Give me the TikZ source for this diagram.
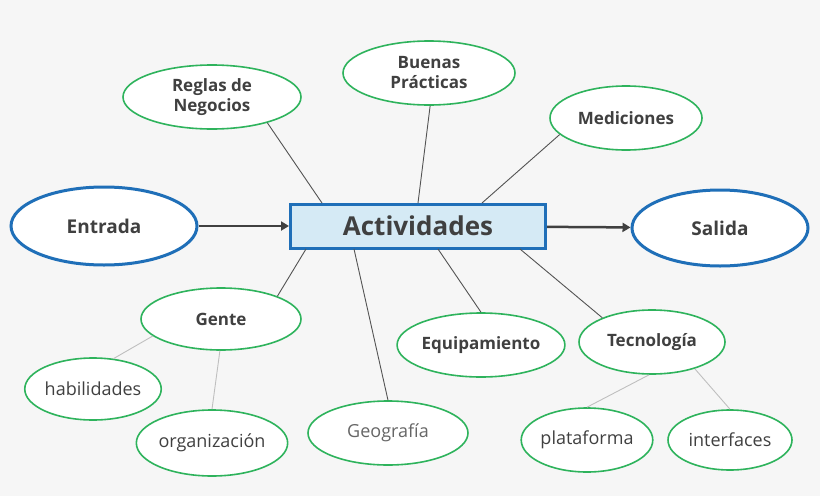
\documentclass[tikz,border=0pt]{standalone}
\usepackage{fontspec}
\setmainfont{Open Sans}
\usetikzlibrary{shapes.geometric,arrows.meta}
\definecolor{bg}{HTML}{F6F6F6}
\definecolor{bluebd}{HTML}{1F6FB8}
\definecolor{actfill}{HTML}{D5EAF5}
\definecolor{grn}{HTML}{2EB35C}
\definecolor{txt}{HTML}{404040}
\tikzset{
 el/.style={ellipse,draw=grn,line width=1.6pt,fill=white,inner sep=0pt,text=txt,font=\fontsize{17}{20}\selectfont\bfseries,align=center},
 elp/.style={el,font=\fontsize{18}{20}\selectfont},
 big/.style={ellipse,draw=bluebd,line width=3pt,fill=white,inner sep=0pt,text=txt,font=\fontsize{19}{21}\selectfont\bfseries},
 ln/.style={draw=txt!90,line width=0.9pt},
 lt/.style={draw=black!25,line width=0.9pt},
 arr/.style={draw=txt,line width=2.5pt,-{Triangle[length=8pt,width=9pt]}}
}
\begin{document}
\begin{tikzpicture}[x=1pt,y=-1pt]
\fill[bg] (0,0) rectangle (820,496);
\useasboundingbox (0,0) rectangle (820,496);
\node[draw=bluebd,line width=3pt,fill=actfill,minimum width=255pt,minimum height=44pt,text=txt,font=\fontsize{26}{28}\selectfont\bfseries] (act) at (418,226) {Actividades};
\node[big,minimum width=186pt,minimum height=78pt] (ent) at (104,226) {Entrada};
\node[big,minimum width=176pt,minimum height=76pt] (sal) at (720,228) {Salida};
\node[el,minimum width=178pt,minimum height=64pt] (reg) at (212,97) {Reglas de\\Negocios};
\node[el,minimum width=172pt,minimum height=64pt] (bue) at (429,73) {Buenas\\Prácticas};
\node[el,minimum width=152pt,minimum height=64pt] (med) at (626,118) {Mediciones};
\node[el,minimum width=160pt,minimum height=62pt] (gen) at (221,319) {Gente};
\node[elp,minimum width=136pt,minimum height=62pt] (hab) at (93,389) {habilidades};
\node[elp,minimum width=134pt,minimum height=66pt] (org) at (212,443) {organización};
\node[elp,text=txt!80,minimum width=160pt,minimum height=64pt] (geo) at (388,433) {Geografía};
\node[el,minimum width=154pt,minimum height=64pt] (equ) at (481,345) {Equipamiento};
\node[el,minimum width=146pt,minimum height=64pt] (tec) at (652,342) {Tecnología};
\node[elp,minimum width=120pt,minimum height=64pt] (pla) at (587,440) {plataforma};
\node[elp,minimum width=124pt,minimum height=60pt] (int) at (730,440) {interfaces};
\coordinate (a1) at (322,203);
\coordinate (a2) at (418,203);
\coordinate (a3) at (482,203);
\coordinate (a4) at (306,249);
\coordinate (a5) at (354,249);
\coordinate (a6) at (438,249);
\coordinate (a7) at (520,249);
\draw[ln] (a1) -- (reg.-25);
\draw[ln] (a2) -- (bue.-88);
\draw[ln] (a3) -- (med.-166);
\draw[ln] (a4) -- (gen.22);
\draw[ln] (a5) -- (geo.90);
\draw[ln] (a6) -- (equ.90);
\draw[ln] (a7) -- (tec.154);
\draw[lt] (gen.-166) -- (hab.56);
\draw[lt] (gen.-92) -- (org.90);
\draw[lt] (tec.-95) -- (pla.90);
\draw[lt] (tec.-32) -- (int.90);
\draw[arr] (ent) -- (act);
\draw[arr] (act) -- (sal);
\end{tikzpicture}
\end{document}
